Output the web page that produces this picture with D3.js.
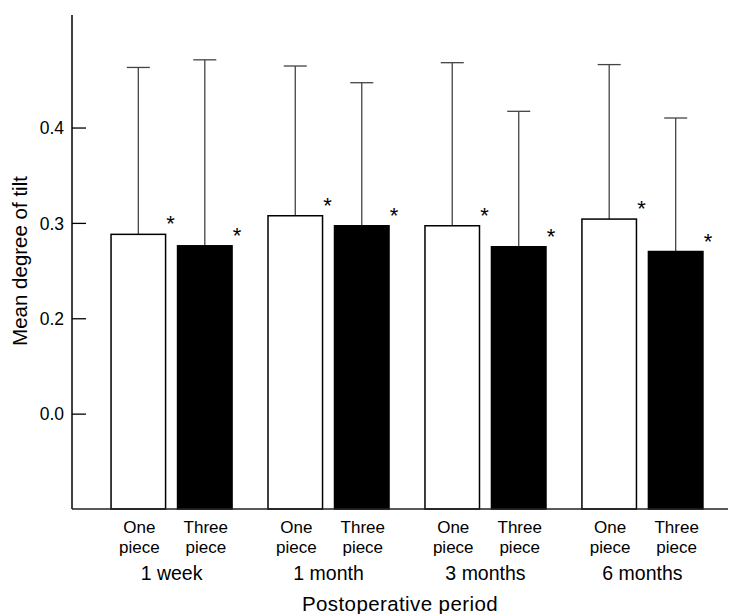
<!DOCTYPE html>
<html>
<head>
<meta charset="utf-8">
<script src="https://cdn.jsdelivr.net/npm/d3@7"></script>
<style>
  html, body { margin: 0; padding: 0; background: #fff; }
  svg { display: block; }
  text { font-family: "Liberation Sans", Arial, Helvetica, sans-serif; fill: #000; }
</style>
</head>
<body>
<script>
// ---- data ----
const periods = ["1 week", "1 month", "3 months", "6 months"];
const lensTypes = ["One piece", "Three piece"];
const onePieceMean = [0.288, 0.3075, 0.297, 0.304];
const onePieceSD   = [0.175, 0.157, 0.171, 0.162];
const threePieceMean = [0.276, 0.297, 0.275, 0.270];
const threePieceSD   = [0.195, 0.150, 0.142, 0.140];
const tickValues = [0.1, 0.2, 0.3, 0.4];
const tickLabels = ["0.0", "0.2", "0.3", "0.4"];
const yTitle = "Mean degree of tilt";
const xTitle = "Postoperative period";

const rows = periods.map((p, i) => ({
  period: p,
  bars: [
    { type: lensTypes[0], mean: onePieceMean[i], sd: onePieceSD[i] },
    { type: lensTypes[1], mean: threePieceMean[i], sd: threePieceSD[i] }
  ]
}));

const W = 743, H = 614;
const svg = d3.select("body").append("svg").attr("width", W).attr("height", H);

const y = d3.scaleLinear().domain([0, 0.518]).range([509, 15]);
const x0 = d3.scaleBand().domain(periods).range([93, 721]).paddingInner(0.229).paddingOuter(0.115);
const x1 = d3.scaleBand().domain(lensTypes).range([0, x0.bandwidth()]).paddingInner(0.18);
const axisX = 72;

// y axis
const yAxis = d3.axisRight(y).tickValues(tickValues)
  .tickFormat((d, i) => tickLabels[i]).tickSize(14).tickSizeOuter(0);
const gy = svg.append("g").attr("transform", `translate(${axisX},0)`).call(yAxis);
gy.select(".domain").remove();
gy.selectAll(".tick line").attr("stroke", "#000").attr("stroke-width", 1.3);
gy.selectAll(".tick text").attr("x", -8).attr("text-anchor", "end")
  .attr("font-size", 17.5).attr("dy", "0.35em")
  .style("font-family", "'Liberation Sans', Arial, sans-serif");
svg.append("line").attr("x1", axisX).attr("x2", axisX)
  .attr("y1", y.range()[1]).attr("y2", y(0)).attr("stroke", "#000").attr("stroke-width", 1.5);

// bars
const groups = svg.selectAll(".grp").data(rows).enter().append("g")
  .attr("transform", d => `translate(${x0(d.period)},0)`);

const bar = groups.selectAll(".bar").data(d => d.bars).enter().append("g");

// error bars
bar.append("line")
  .attr("x1", d => x1(d.type) + x1.bandwidth() / 2)
  .attr("x2", d => x1(d.type) + x1.bandwidth() / 2)
  .attr("y1", d => y(d.mean)).attr("y2", d => y(d.mean + d.sd))
  .attr("stroke", "#444").attr("stroke-width", 1.3);
bar.append("line")
  .attr("x1", d => x1(d.type) + x1.bandwidth() / 2 - 11.5)
  .attr("x2", d => x1(d.type) + x1.bandwidth() / 2 + 11.5)
  .attr("y1", d => y(d.mean + d.sd)).attr("y2", d => y(d.mean + d.sd))
  .attr("stroke", "#444").attr("stroke-width", 1.3);

bar.append("rect")
  .attr("x", d => x1(d.type))
  .attr("width", x1.bandwidth())
  .attr("y", d => y(d.mean))
  .attr("height", d => y(0) - y(d.mean))
  .attr("fill", (d, i) => i === 0 ? "#fff" : "#000")
  .attr("stroke", "#000").attr("stroke-width", 1.5);

// asterisks
bar.append("text")
  .attr("x", d => x1(d.type) + x1.bandwidth() + 5)
  .attr("y", d => y(d.mean) - 3)
  .attr("text-anchor", "middle").attr("font-size", 22)
  .text("*");

// baseline
svg.append("line").attr("x1", axisX).attr("x2", 728)
  .attr("y1", y(0)).attr("y2", y(0)).attr("stroke", "#222").attr("stroke-width", 1.5);

// category labels
bar.each(function(d) {
  const g = d3.select(this);
  const cx = x1(d.type) + x1.bandwidth() / 2 + 1;
  const parts = d.type.split(" ");
  g.append("text").attr("x", cx).attr("y", 532.5).attr("text-anchor", "middle")
    .attr("font-size", 17).text(parts[0]);
  g.append("text").attr("x", cx).attr("y", 553).attr("text-anchor", "middle")
    .attr("font-size", 17).text(parts[1]);
});
groups.append("text").attr("x", x0.bandwidth() / 2).attr("y", 579.5)
  .attr("text-anchor", "middle").attr("font-size", 19.5).text(d => d.period);

// axis titles
svg.append("text").attr("x", 400).attr("y", 611).attr("text-anchor", "middle")
  .attr("font-size", 20.5).attr("letter-spacing", 0.4).text(xTitle);
svg.append("text").attr("transform", "translate(27,261) rotate(-90)")
  .attr("text-anchor", "middle").attr("font-size", 20.5).text(yTitle);
</script>
</body>
</html>
